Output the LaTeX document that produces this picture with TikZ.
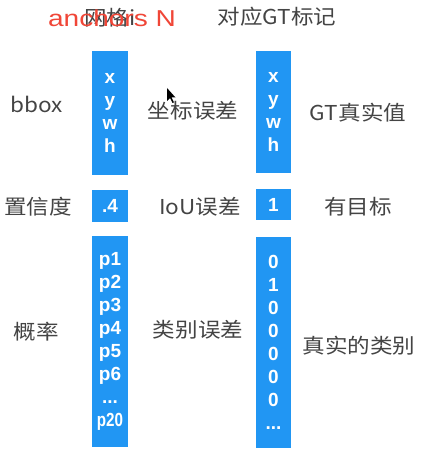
\documentclass[tikz,border=0pt]{standalone}
\usepackage{fontspec}
\setmainfont{Liberation Sans}
\newfontfamily\cjk{Noto Sans CJK SC}
\definecolor{blu}{RGB}{33,150,243}
\definecolor{lbl}{RGB}{68,68,68}
\definecolor{redt}{RGB}{240,70,55}
\newcommand{\sx}[1]{\scalebox{1.1}[1]{#1}}
\begin{document}
\begin{tikzpicture}[x=1pt,y=-1pt,
  vbox/.style={fill=blu, inner sep=0pt, text=white, align=center,
     font=\fontsize{19}{23}\selectfont\bfseries},
  lbl/.style={text=lbl, inner sep=0pt, font=\cjk\fontsize{20.5}{24}\selectfont},
  anc/.style={text=redt, inner sep=0pt, font=\fontsize{23}{26}\selectfont}]
\useasboundingbox (0,0) rectangle (435,457);
\fill[white] (0,0) rectangle (435,457);
% header
\node[lbl] (grid) at (110,18) {\sx{网格i}};
\node[anc] (anch) at (112,18) {\scalebox{1.22}[1]{anchors N}};
\node[lbl] (gthead) at (277,17) {\sx{对应GT标记}};
% left column boxes
\node[vbox, minimum width=36, minimum height=124] (l1) at (110,113) {x\\y\\w\\h};
\node[vbox, minimum width=36, minimum height=32] (l2) at (110,206) {.4};
\node[vbox, minimum width=36, minimum height=211] (l3) at (110,341.5)
  {p1\\p2\\p3\\p4\\p5\\p6\\...\\\scalebox{0.8}[1]{p20}};
% right column boxes
\node[vbox, minimum width=35, minimum height=122] (r1) at (273.5,112) {x\\y\\w\\h};
\node[vbox, minimum width=35, minimum height=31] (r2) at (273.5,204.5) {1};
\node[vbox, minimum width=35, minimum height=211] (r3) at (273.5,342)
  {0\\1\\0\\0\\0\\0\\0\\...};
% left labels
\node[lbl] (bbox) at (37,104) {\sx{bbox}};
\node[lbl] (conf) at (38,207) {\sx{置信度}};
\node[lbl] (prob) at (36,332) {\sx{概率}};
% middle labels
\node[lbl] (coord) at (193,111) {\sx{坐标误差}};
\node[lbl] (iou) at (200,207) {\sx{IoU误差}};
\node[lbl] (cls) at (198,330) {\sx{类别误差}};
% right labels
\node[lbl] (gtv) at (358,113) {\sx{GT真实值}};
\node[lbl] (obj) at (358,207) {\sx{有目标}};
\node[lbl] (tcls) at (359,346) {\sx{真实的类别}};
% mouse cursor
\fill[black] (167,88) -- (167,101) -- (170,98) -- (172.5,103) -- (174,102.3) -- (171.5,97.5) -- (175.5,97.5) -- cycle;
\end{tikzpicture}
\end{document}
